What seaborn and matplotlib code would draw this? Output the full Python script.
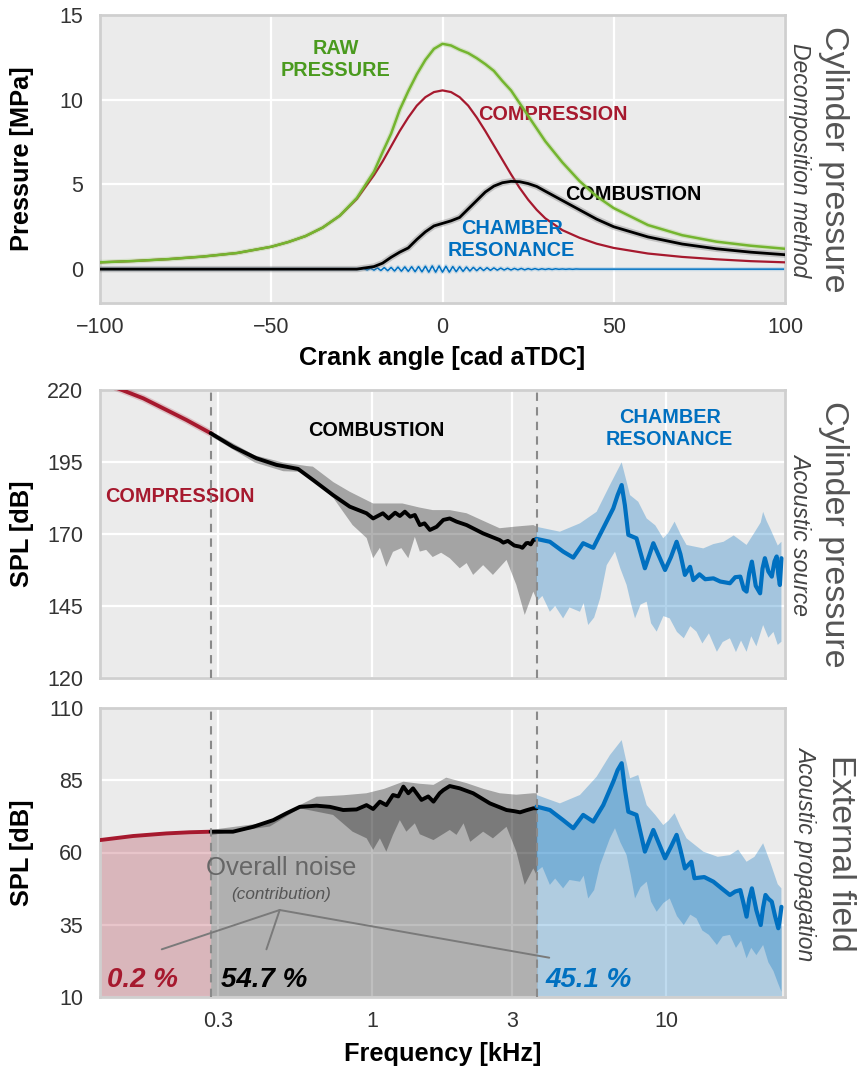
import numpy as np
import matplotlib
matplotlib.use("Agg")
import matplotlib.pyplot as plt
import seaborn as sns
from matplotlib.ticker import FixedLocator, NullLocator

# ====================== DATA ======================
# --- Top panel: cylinder pressure decomposition (MPa vs crank angle) ---
crank_angle = [-100, -90, -80, -70, -60, -50, -45, -40, -35, -30, -25, -20, -17.5, -15, -12.5,
               -10, -7.5, -5, -2.5, 0, 2.5, 5, 7.5, 10, 12.5, 15, 17.5, 20, 22.5, 25, 27.5,
               30, 35, 40, 45, 50, 60, 70, 80, 90, 100]
raw_pressure = [0.40, 0.48, 0.59, 0.74, 0.95, 1.32, 1.60, 1.95, 2.45, 3.15, 4.20, 5.75, 6.90, 8.00, 9.40,
                10.50, 11.50, 12.35, 13.00, 13.30, 13.20, 12.95, 12.75, 12.45, 12.10, 11.70, 11.10, 10.55, 9.80, 9.05, 8.30,
                7.55, 6.30, 5.20, 4.30, 3.60, 2.60, 2.00, 1.62, 1.38, 1.20]
compression_pressure = [0.40, 0.48, 0.59, 0.74, 0.95, 1.32, 1.60, 1.95, 2.45, 3.15, 4.15, 5.55, 6.35, 7.25, 8.15,
                        8.95, 9.65, 10.15, 10.45, 10.55, 10.45, 10.15, 9.65, 8.95, 8.15, 7.30, 6.45, 5.60, 4.80, 4.10, 3.50,
                        3.00, 2.30, 1.85, 1.50, 1.25, 0.92, 0.72, 0.58, 0.47, 0.40]
combustion_pressure = [0.0, 0.0, 0.0, 0.0, 0.0, 0.0, 0.0, 0.0, 0.0, 0.0, 0.0, 0.15, 0.35, 0.70, 1.00,
                       1.25, 1.75, 2.20, 2.55, 2.70, 2.85, 3.05, 3.55, 4.05, 4.55, 4.90, 5.10, 5.18, 5.16, 5.05, 4.88,
                       4.60, 4.05, 3.50, 2.95, 2.50, 1.90, 1.48, 1.20, 1.00, 0.85]
resonance_angle = [-100] + list(range(-24, 41)) + [100]
resonance_pressure = [0.0,
    0.00, 0.04, -0.05, 0.05, -0.06, 0.07, -0.08, 0.09, -0.09, 0.10, -0.11, 0.12, -0.12, 0.13, -0.13,
    0.14, -0.15, 0.15, -0.16, 0.17, -0.18, 0.19, -0.18, 0.19, -0.18, 0.17, -0.18, 0.15, -0.15, 0.14,
    -0.13, 0.12, -0.11, 0.10, -0.09, 0.09, -0.08, 0.08, -0.07, 0.07, -0.06, 0.06, -0.05, 0.05, -0.05,
    0.04, -0.04, 0.04, -0.04, 0.03, -0.03, 0.03, -0.03, 0.02, -0.02, 0.02, -0.02, 0.02, -0.01, 0.01,
    -0.01, 0.01, -0.01, 0.01, 0.00,
    0.0]

# --- Frequency-domain split (kHz) ---
split_freqs = [0.283, 3.64]

# --- Middle panel: cylinder pressure SPL (dB) ---
mid_comp_f = [0.135, 0.167, 0.200, 0.234, 0.283]
mid_comp_spl = [220.8, 217.1, 213.1, 209.6, 205.0]

mid_comb_f = [0.283, 0.337, 0.405, 0.474, 0.561, 0.631, 0.738, 0.841, 0.959, 1.01, 1.09, 1.14, 1.20,
              1.245, 1.295, 1.35, 1.40, 1.456, 1.51, 1.575, 1.66, 1.75, 1.84, 1.94, 2.10, 2.39, 2.72,
              2.80, 2.90, 3.05, 3.19, 3.25, 3.35, 3.40, 3.47, 3.54, 3.64]
mid_comb_spl = [205.0, 200.3, 196.3, 194.0, 192.6, 188.75, 183.5, 179.5, 177.2, 175.4, 177.2, 175.4, 177.4,
                176.25, 177.75, 176.0, 176.6, 173.1, 173.7, 171.4, 172.5, 174.9, 175.4, 174.3, 173.1, 170.2, 167.9,
                167.0, 167.6, 166.0, 165.6, 165.2, 166.8, 166.9, 166.4, 167.9, 168.2]
mid_comb_hi_f = [0.283, 0.40, 0.50, 0.60, 0.63, 0.74, 0.84, 1.01, 1.27, 1.45, 1.61, 1.84, 2.10, 2.40,
                 2.72, 3.10, 3.54, 3.64]
mid_comb_hi = [205.8, 197.3, 194.8, 193.6, 193.4, 188.0, 184.7, 180.6, 180.6, 179.2, 178.3, 178.3, 177.2,
               174.5, 172.0, 172.6, 173.1, 172.5]
mid_comb_lo_f = [0.283, 0.40, 0.50, 0.57, 0.65, 0.74, 0.86, 0.96, 1.01, 1.065, 1.12, 1.18, 1.26, 1.33,
                 1.40, 1.456, 1.53, 1.61, 1.72, 1.84, 1.99, 2.10, 2.21, 2.39, 2.58, 2.87, 3.10, 3.31,
                 3.54, 3.64]
mid_comb_lo = [204.0, 194.8, 191.8, 191.6, 187.5, 182.5, 173.1, 168.6, 161.6, 165.2, 158.6, 163.8, 165.1,
               161.6, 169.0, 163.9, 164.5, 162.0, 163.5, 161.6, 158.1, 159.9, 155.8, 159.2, 155.8, 161.0,
               152.3, 141.9, 150.0, 147.1]

mid_res_f = [3.63, 4.03, 4.47, 4.84, 5.23, 5.66, 6.12, 6.62, 6.85, 7.07, 7.25, 7.45, 7.94, 8.48, 9.06,
             9.93, 10.4, 10.87, 11.2, 11.6, 12.08, 12.39, 13.0, 13.6, 14.5, 15.3, 16.5, 17.2, 17.9, 18.4,
             18.8, 19.2, 19.6, 20.2, 20.9, 21.3, 21.7, 22.3, 22.9, 23.4, 23.8, 24.1, 24.4, 24.7]
mid_res_spl = [168.3, 167.3, 163.9, 161.8, 166.8, 165.2, 172.0, 178.9, 183.5, 187.0, 180.0, 169.7, 168.5,
               158.1, 166.8, 157.5, 162.0, 167.3, 163.0, 155.8, 158.6, 154.0, 156.0, 154.3, 154.6, 153.5,
               152.9, 155.0, 155.2, 150.8, 150.0, 156.5, 160.4, 152.0, 149.4, 158.0, 161.6, 157.0, 155.2,
               160.5, 162.2, 156.0, 152.3, 161.6]
mid_res_hi_f = [3.63, 4.36, 5.10, 5.81, 6.45, 7.07, 7.55, 8.05, 8.60, 9.20, 9.79, 10.2, 10.7, 11.2, 11.75,
                13.4, 14.5, 15.7, 17.0, 18.8, 20.0, 21.0, 21.4, 22.0, 22.6, 24.0, 24.7]
mid_res_hi = [172.5, 170.8, 173.7, 177.7, 187.0, 194.9, 183.5, 181.2, 175.4, 173.0, 168.5, 170.5, 174.3,
              170.0, 166.2, 165.0, 166.5, 167.3, 169.5, 166.2, 170.5, 174.0, 177.7, 174.5, 172.0, 166.0, 167.3]
mid_res_lo_f = [3.63, 3.80, 4.03, 4.20, 4.47, 4.70, 5.10, 5.25, 5.44, 5.70, 5.97, 6.29, 6.71, 7.00, 7.35,
                7.60, 7.85, 8.20, 8.60, 8.90, 9.30, 9.80, 10.3, 10.9, 11.5, 12.1, 12.7, 13.3, 14.0, 14.9,
                15.6, 16.5, 17.3, 18.0, 18.8, 19.5, 20.3, 21.4, 22.3, 23.2, 24.0, 24.7]
mid_res_lo = [146.5, 148.5, 143.0, 145.0, 140.7, 144.5, 143.0, 146.0, 138.4, 141.0, 147.6, 159.2, 163.9,
              158.0, 152.3, 146.0, 140.7, 145.5, 146.5, 139.0, 136.1, 141.5, 140.7, 136.0, 133.8, 138.0,
              136.1, 132.0, 135.5, 129.1, 132.5, 133.8, 129.0, 133.0, 129.1, 134.5, 131.0, 138.4, 134.0,
              136.0, 131.5, 132.6]

# --- Bottom panel: external field SPL (dB) ---
ext_comp_f = [0.119, 0.154, 0.200, 0.240, 0.283]
ext_comp_spl = [64.3, 65.7, 66.6, 67.0, 67.2]

ext_comb_f = [0.283, 0.337, 0.395, 0.462, 0.513, 0.569, 0.649, 0.72, 0.799, 0.887, 0.959, 1.01, 1.065,
              1.12, 1.18, 1.23, 1.28, 1.33, 1.38, 1.475, 1.555, 1.62, 1.70, 1.75, 1.84, 1.99, 2.21, 2.52,
              2.87, 3.05, 3.19, 3.35, 3.54, 3.64]
ext_comb_spl = [67.2, 67.2, 68.9, 71.2, 73.6, 75.8, 76.2, 75.8, 74.7, 74.9, 76.4, 75.05, 77.6, 76.4, 79.9,
                79.4, 82.8, 80.5, 82.2, 78.2, 79.4, 77.6, 80.5, 81.6, 83.0, 82.2, 80.5, 77.0, 74.7, 74.3,
                73.9, 74.6, 75.3, 75.3]
ext_comb_hi_f = [0.283, 0.45, 0.569, 0.649, 0.80, 0.959, 1.10, 1.28, 1.45, 1.62, 1.79, 2.10, 2.40, 2.72,
                 3.10, 3.54, 3.64]
ext_comb_hi = [67.8, 70.5, 76.4, 79.3, 79.8, 80.5, 82.0, 84.5, 83.8, 83.4, 85.9, 84.0, 82.0, 80.5, 80.0,
               80.5, 80.5]
ext_comb_lo_f = [0.283, 0.45, 0.569, 0.738, 0.86, 0.96, 1.01, 1.065, 1.12, 1.18, 1.245, 1.31, 1.40, 1.456,
                 1.62, 1.84, 1.94, 2.05, 2.16, 2.39, 2.58, 2.87, 3.10, 3.31, 3.54, 3.64]
ext_comb_lo = [66.0, 69.0, 75.3, 73.0, 67.2, 64.9, 60.9, 64.9, 60.3, 66.1, 71.2, 67.2, 70.1, 66.3, 64.3,
               67.8, 66.1, 70.1, 63.7, 67.2, 64.9, 68.9, 60.3, 48.8, 54.5, 52.0]

ext_res_f = [3.63, 4.03, 4.47, 4.84, 5.23, 5.66, 6.12, 6.62, 6.85, 7.07, 7.25, 7.45, 7.94, 8.48, 9.06, 9.93,
             10.4, 10.87, 11.2, 11.6, 12.2, 12.5, 13.5, 14.5, 15.5, 16.5, 17.2, 17.9, 18.4, 18.8, 19.2,
             19.6, 20.3, 21.0, 21.4, 21.8, 22.3, 22.9, 23.5, 24.1, 24.4, 24.7]
ext_res_spl = [75.9, 74.7, 71.2, 68.4, 73.0, 70.7, 76.4, 84.5, 88.5, 90.9, 82.0, 74.1, 73.0, 60.3, 67.8,
               58.0, 62.0, 66.1, 61.0, 54.5, 56.8, 51.1, 51.5, 49.9, 47.5, 45.3, 46.5, 47.0, 42.0, 37.8,
               44.0, 47.6, 40.0, 34.9, 41.0, 45.3, 44.0, 43.0, 38.0, 33.8, 37.0, 41.2]
ext_res_hi_f = [3.63, 4.36, 5.10, 5.81, 6.45, 7.07, 7.55, 8.05, 8.60, 9.20, 9.79, 10.2, 10.7, 11.2, 11.75,
                13.4, 15.0, 16.5, 17.6, 18.8, 20.0, 21.4, 22.6, 24.0, 24.7]
ext_res_hi = [79.9, 77.0, 79.9, 86.2, 93.7, 98.9, 85.7, 86.8, 76.4, 73.0, 69.5, 71.0, 73.6, 69.0, 64.9,
              60.3, 58.5, 59.1, 61.0, 56.8, 58.5, 63.2, 56.8, 49.0, 47.6]
ext_res_lo_f = [3.63, 3.80, 4.03, 4.20, 4.47, 4.70, 5.10, 5.25, 5.44, 5.70, 5.97, 6.45, 6.71, 7.00, 7.35,
                7.60, 7.85, 8.20, 8.60, 8.90, 9.30, 9.80, 10.3, 10.9, 11.5, 12.1, 12.7, 13.3, 14.0, 14.9,
                15.6, 16.5, 17.3, 18.0, 18.8, 19.5, 20.3, 21.4, 22.3, 23.2, 24.0, 24.7]
ext_res_lo = [53.4, 55.0, 48.8, 51.0, 47.6, 50.5, 49.9, 52.0, 44.1, 47.0, 55.7, 64.9, 68.4, 63.5, 59.1,
              52.0, 44.1, 48.0, 49.9, 43.0, 39.5, 42.5, 44.1, 38.0, 34.9, 38.5, 37.2, 33.0, 31.5, 28.0,
              31.0, 31.5, 27.0, 29.5, 23.4, 27.0, 24.5, 28.0, 22.0, 19.0, 15.0, 11.8]

contributions = ["0.2 %", "54.7 %", "45.1 %"]

# ticks
crank_ticks = [-100, -50, 0, 50, 100]
pressure_ticks = [0, 5, 10, 15]
freq_ticks = [0.3, 1, 3, 10]
freq_ticklabels = ["0.3", "1", "3", "10"]
spl_src_ticks = [120, 145, 170, 195, 220]
spl_ext_ticks = [10, 35, 60, 85, 110]

# ====================== STYLE ======================
RED = "#A6192E"
GREEN = "#74B52F"
GREEN_TXT = "#4A9A1E"
BLUE = "#0070C0"
BG = "#EBEBEB"

sns.set_theme(style="darkgrid", rc={
    "axes.facecolor": BG, "grid.color": "white", "grid.linewidth": 1.6,
    "axes.edgecolor": "#CFCFCF", "axes.linewidth": 2.0,
})
plt.rcParams["font.family"] = ["Liberation Sans", "DejaVu Sans"]
plt.rcParams["axes.unicode_minus"] = True

W, H = 860, 1068
fig = plt.figure(figsize=(W / 100, H / 100), dpi=100)


def axes_px(left, top, right, bottom):
    return fig.add_axes([left / W, 1 - bottom / H, (right - left) / W, (bottom - top) / H])


ax1 = axes_px(100, 15, 785, 303)
ax2 = axes_px(100, 390, 785, 678)
ax3 = axes_px(100, 708, 785, 997)


def line(ax, x, y, color, lw, z=3, alpha=1.0):
    sns.lineplot(x=np.asarray(x, float), y=np.asarray(y, float), ax=ax, color=color,
                 linewidth=lw, estimator=None, sort=False, zorder=z, alpha=alpha)


def band(ax, xh, yh, xl, yl, color, alpha, z=1.5):
    xs = np.concatenate([np.asarray(xh, float), np.asarray(xl, float)[::-1]])
    ys = np.concatenate([np.asarray(yh, float), np.asarray(yl, float)[::-1]])
    ax.fill(xs, ys, color=color, alpha=alpha, lw=0, zorder=z)


TICK_FS = 15.5
LABEL_FS = 18.3
ANN_FS = 14.3

# ---------------- Top panel ----------------
line(ax1, resonance_angle, resonance_pressure, BLUE, 3.0, z=2, alpha=0.15)
line(ax1, resonance_angle, resonance_pressure, BLUE, 1.1, z=2.1)
line(ax1, crank_angle, compression_pressure, RED, 1.6, z=3)
line(ax1, crank_angle, raw_pressure, GREEN, 3.6, z=3.1, alpha=0.2)
line(ax1, crank_angle, raw_pressure, GREEN, 1.8, z=3.2)
line(ax1, crank_angle, combustion_pressure, "#777777", 4.6, z=3.3, alpha=0.35)
line(ax1, crank_angle, combustion_pressure, "black", 2.0, z=3.4)

ax1.set_xlim(-100, 100)
ax1.set_ylim(-2, 15)
ax1.xaxis.set_major_locator(FixedLocator(crank_ticks))
ax1.yaxis.set_major_locator(FixedLocator(pressure_ticks))
ax1.text(-31.1, 12.35, "RAW\nPRESSURE", color=GREEN_TXT, fontweight="bold", fontsize=ANN_FS,
         ha="center", va="center", linespacing=1.2)
ax1.text(32.3, 9.1, "COMPRESSION", color=RED, fontweight="bold", fontsize=ANN_FS, ha="center", va="center")
ax1.text(55.7, 4.4, "COMBUSTION", color="black", fontweight="bold", fontsize=ANN_FS, ha="center", va="center")
ax1.text(20.2, 1.75, "CHAMBER\nRESONANCE", color=BLUE, fontweight="bold", fontsize=ANN_FS,
         ha="center", va="center", linespacing=1.2)
ax1.set_xlabel("Crank angle [cad aTDC]", fontsize=LABEL_FS, fontweight="bold", color="black")
ax1.set_ylabel("Pressure [MPa]", fontsize=LABEL_FS, fontweight="bold", color="black")

# ---------------- Middle panel ----------------
for ax in (ax2, ax3):
    ax.set_xscale("log")

band(ax2, mid_comb_hi_f, mid_comb_hi, mid_comb_lo_f, mid_comb_lo, "black", 0.30)
band(ax2, mid_res_hi_f, mid_res_hi, mid_res_lo_f, mid_res_lo, BLUE, 0.30)
line(ax2, mid_comp_f, mid_comp_spl, RED, 5.0, z=2.8, alpha=0.2)
line(ax2, mid_comp_f, mid_comp_spl, RED, 2.8, z=3)
line(ax2, mid_comb_f, mid_comb_spl, "black", 2.8, z=3)
line(ax2, mid_res_f, mid_res_spl, BLUE, 3.0, z=3)
ax2.set_ylim(120, 220)
ax2.yaxis.set_major_locator(FixedLocator(spl_src_ticks))
ax2.text(0.222, 183.0, "COMPRESSION", color=RED, fontweight="bold", fontsize=ANN_FS, ha="center", va="center")
ax2.text(1.037, 206.1, "COMBUSTION", color="black", fontweight="bold", fontsize=ANN_FS, ha="center", va="center")
ax2.text(10.3, 206.5, "CHAMBER\nRESONANCE", color=BLUE, fontweight="bold", fontsize=ANN_FS,
         ha="center", va="center", linespacing=1.2)
ax2.set_ylabel("SPL [dB]", fontsize=LABEL_FS, fontweight="bold", color="black")
ax2.set_xlabel("")

# ---------------- Bottom panel ----------------
ax3.set_ylim(10, 110)
ax3.fill_between(ext_comp_f, ext_comp_spl, 10, color=RED, alpha=0.25, lw=0, zorder=1)
ax3.fill_between(ext_comb_f, ext_comb_spl, 10, color="black", alpha=0.25, lw=0, zorder=1)
ax3.fill_between(ext_res_f, ext_res_spl, 10, color=BLUE, alpha=0.25, lw=0, zorder=1)
band(ax3, ext_comb_hi_f, ext_comb_hi, ext_comb_lo_f, ext_comb_lo, "black", 0.30)
band(ax3, ext_res_hi_f, ext_res_hi, ext_res_lo_f, ext_res_lo, BLUE, 0.30)
line(ax3, ext_comp_f, ext_comp_spl, RED, 2.8, z=3)
line(ax3, ext_comb_f, ext_comb_spl, "black", 2.8, z=3)
line(ax3, ext_res_f, ext_res_spl, BLUE, 3.0, z=3)
ax3.yaxis.set_major_locator(FixedLocator(spl_ext_ticks))

ax3.text(0.493, 54.6, "Overall noise", color="#666666", fontsize=18.5, ha="center", va="center", zorder=5)
ax3.text(0.493, 45.3, "(contribution)", color="#555555", fontsize=12.3, style="italic",
         ha="center", va="center", zorder=5)
for tgt in [(0.193, 26.5), (0.438, 26.5), (4.01, 23.6)]:
    ax3.annotate("", xy=tgt, xytext=(0.486, 40.1),
                 arrowprops=dict(arrowstyle="-", color="#7A7A7A", lw=1.4, shrinkA=0, shrinkB=0), zorder=5)
for xpos, txt, col in zip([0.1256, 0.308, 3.88], contributions, [RED, "black", BLUE]):
    ax3.text(xpos, 15.9, txt, color=col, fontsize=20, fontweight="bold", style="italic",
             ha="left", va="center", zorder=5)
ax3.set_xlabel("Frequency [kHz]", fontsize=LABEL_FS, fontweight="bold", color="black")
ax3.set_ylabel("SPL [dB]", fontsize=LABEL_FS, fontweight="bold", color="black")

for ax in (ax2, ax3):
    ax.set_xlim(0.119, 25.4)
    ax.xaxis.set_major_locator(FixedLocator(freq_ticks))
    ax.xaxis.set_minor_locator(NullLocator())
    ax.set_xticklabels(freq_ticklabels)
    for fs in split_freqs:
        ax.axvline(fs, color="#8A8A8A", lw=1.5, ls=(0, (4, 3)), zorder=4)
ax2.tick_params(axis="x", labelbottom=False)

for ax in (ax1, ax2, ax3):
    ax.tick_params(axis="both", labelsize=TICK_FS, colors="#333333", length=0)
    ax.tick_params(axis="y", pad=12)
    ax.tick_params(axis="x", pad=10)
    ax.yaxis.set_label_coords(-0.096, 0.5)
    for sp in ax.spines.values():
        sp.set_visible(True)
        sp.set_color("#CFCFCF")
        sp.set_linewidth(2.0)
ax1.xaxis.set_label_coords(0.5, -0.148)
ax3.xaxis.set_label_coords(0.5, -0.157)

# ---------------- Right-side panel titles ----------------
def side(xc, yc, txt, fs, color, italic=False):
    fig.text(xc / W, 1 - yc / H, txt, rotation=270, ha="center", va="center", fontsize=fs,
             color=color, style="italic" if italic else "normal")

side(833, 159, "Cylinder pressure", 24.5, "#555555")
side(800, 160, "Decomposition method", 16.5, "#444444", italic=True)
side(833, 534, "Cylinder pressure", 24.5, "#555555")
side(801, 534, "Acoustic source", 16.5, "#444444", italic=True)
side(841, 853, "External field", 24.5, "#555555")
side(806, 853, "Acoustic propagation", 16.5, "#444444", italic=True)

fig.savefig("out.png", dpi=100)
